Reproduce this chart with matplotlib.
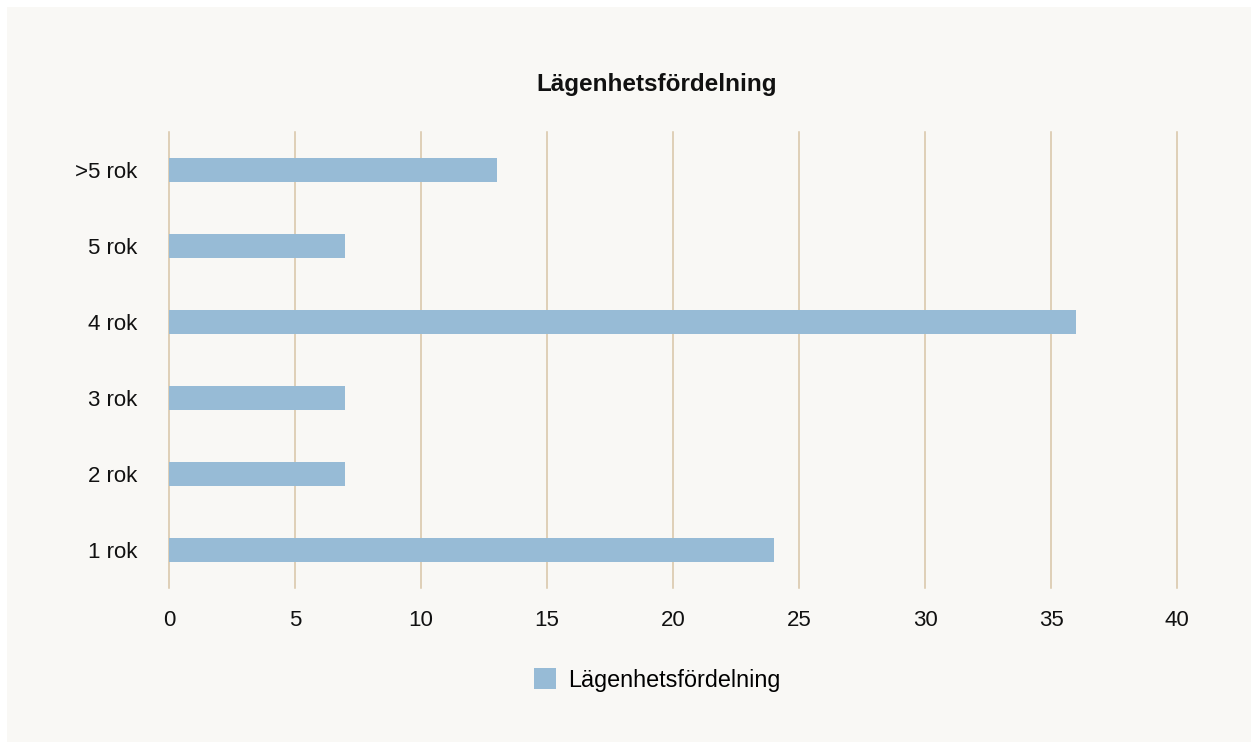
import matplotlib
matplotlib.use("Agg")
import matplotlib.pyplot as plt
from matplotlib.patches import Rectangle

categories = ['1 rok', '2 rok', '3 rok', '4 rok', '5 rok', '>5 rok']
values = [24, 7, 7, 36, 7, 13]
series_name = 'Lägenhetsfördelning'
xticks = [0, 5, 10, 15, 20, 25, 30, 35, 40]

bar_color = '#97bbd6'
grid_color = '#d8c4a6'
bg_color = '#f9f8f5'

plt.rcParams['font.family'] = ['Liberation Sans', 'DejaVu Sans']

fig = plt.figure(figsize=(12.58, 7.49), dpi=100)
fig.patch.set_facecolor('white')
fig.patches.append(Rectangle((7 / 1258, 7 / 749), 1 - 14 / 1258, 1 - 14 / 749,
                             transform=fig.transFigure, facecolor=bg_color,
                             edgecolor='none', zorder=-10))

ax = fig.add_axes([169 / 1258, 1 - 588 / 749, (1177 - 169) / 1258, (588 - 132) / 749])
ax.set_facecolor('none')

ax.barh(categories, values, height=0.31, color=bar_color, label=series_name, zorder=3)

ax.set_xlim(0, 40)
ax.set_ylim(-0.5, 5.5)
ax.set_xticks(xticks)
ax.xaxis.grid(True, color=grid_color, linewidth=1.1)
for gl in ax.get_xgridlines():
    gl.set_clip_on(False)
ax.set_axisbelow(True)
for s in ax.spines.values():
    s.set_visible(False)
ax.tick_params(length=0, labelsize=16, colors='#111111')
ax.tick_params(axis='x', pad=16)
ax.tick_params(axis='y', pad=23)

fig.text(657 / 1258, 1 - 84 / 749, series_name, ha='center', va='center',
         fontsize=17.5, fontweight='bold', color='#111111')

leg = fig.legend(loc='center', bbox_to_anchor=(657 / 1258, 1 - 680 / 749),
                 frameon=False, fontsize=16.8, handlelength=0.95, handleheight=0.95,
                 handletextpad=0.5)

fig.savefig('out.png', dpi=100, facecolor=fig.get_facecolor())
